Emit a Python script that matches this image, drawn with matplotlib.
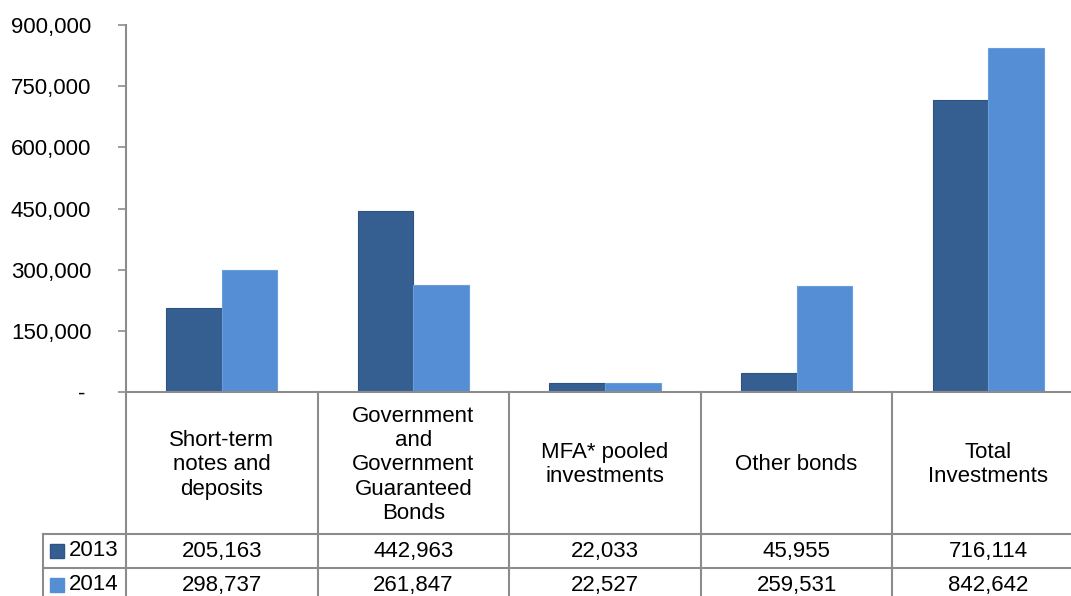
import matplotlib.pyplot as plt
from matplotlib.ticker import FuncFormatter
import matplotlib.transforms as mtransforms

# data
categories = ["Short-term\nnotes and\ndeposits",
              "Government\nand\nGovernment\nGuaranteed\nBonds",
              "MFA* pooled\ninvestments",
              "Other bonds",
              "Total\nInvestments"]
series_names = ["2013", "2014"]
values_2013 = [205163, 442963, 22033, 45955, 716114]
values_2014 = [298737, 261847, 22527, 259531, 842642]
yticks = [0, 150000, 300000, 450000, 600000, 750000, 900000]

col_2013 = "#365f91"
col_2014 = "#558ed5"
line_col = "#8c8c8c"

plt.rcParams['font.family'] = ['Liberation Sans', 'DejaVu Sans']
fs = 16

W, H = 1071, 596
fig = plt.figure(figsize=(W / 100, H / 100), dpi=100)
# axes placed in pixel units (right part runs past the figure edge like the original)
left, right, top, bottom = 126, 1084, 25, 392
ax = fig.add_axes([left / W, (H - bottom) / H, (right - left) / W, (bottom - top) / H])

x = list(range(len(categories)))
bw = 0.29
ax.bar([i - bw / 2 for i in x], values_2013, width=bw, color=col_2013,
       edgecolor="#2d5385", linewidth=0.8, zorder=2)
ax.bar([i + bw / 2 for i in x], values_2014, width=bw, color=col_2014,
       edgecolor="#6a9ddd", linewidth=0.8, zorder=2)

ax.set_xlim(-0.5, len(categories) - 0.5)
ax.set_ylim(0, 900000)
ax.set_yticks(yticks)
ax.yaxis.set_major_formatter(FuncFormatter(lambda v, p: "- " if v == 0 else f"{int(v):,}"))
ax.tick_params(axis="y", length=6, width=1.2, color=line_col, labelsize=fs, pad=19)
ax.set_xticks([])
for s in ["top", "right"]:
    ax.spines[s].set_visible(False)
for s in ["left", "bottom"]:
    ax.spines[s].set_color(line_col)
    ax.spines[s].set_linewidth(1.5)

# data table under the plot
trans = mtransforms.blended_transform_factory(ax.transData, ax.transAxes)
px = (bottom - top)
y_cat = -(534 - bottom) / px
y_r1 = -(568 - bottom) / px
y_r2 = -(602 - bottom) / px
x_leg = -0.5 - 83 / 192

lw = 1.5
for i in range(len(categories) + 1):
    ax.plot([i - 0.5, i - 0.5], [0, y_r2], transform=trans, color=line_col,
            lw=lw, clip_on=False)
ax.plot([x_leg, x_leg], [y_cat, y_r2], transform=trans, color=line_col, lw=lw, clip_on=False)
for yy in [y_cat, y_r1]:
    ax.plot([x_leg, len(categories) - 0.5], [yy, yy], transform=trans, color=line_col,
            lw=lw, clip_on=False)

for i, cat in enumerate(categories):
    ax.text(i, y_cat / 2 - 0.005, cat, transform=trans, ha="center", va="center",
            fontsize=fs, linespacing=1.2, clip_on=False)

rows = [(values_2013, col_2013, "#2d5385", (y_cat + y_r1) / 2),
        (values_2014, col_2014, col_2014, (y_r1 + y_r2) / 2)]
for name, (vals, c, ec, yc) in zip(series_names, rows):
    for i, v in enumerate(vals):
        ax.text(i, yc, f"{v:,}", transform=trans, ha="center", va="center",
                fontsize=fs, clip_on=False)
    ax.text(x_leg + 26 / 192, yc, name, transform=trans, ha="left", va="center",
            fontsize=fs, clip_on=False)
    ax.add_patch(plt.Rectangle((x_leg + 7 / 192, yc - 0.019), 14 / 192, 0.038,
                               transform=trans, facecolor=c, edgecolor=ec, lw=1,
                               clip_on=False))

fig.savefig("out.png", dpi=100)
